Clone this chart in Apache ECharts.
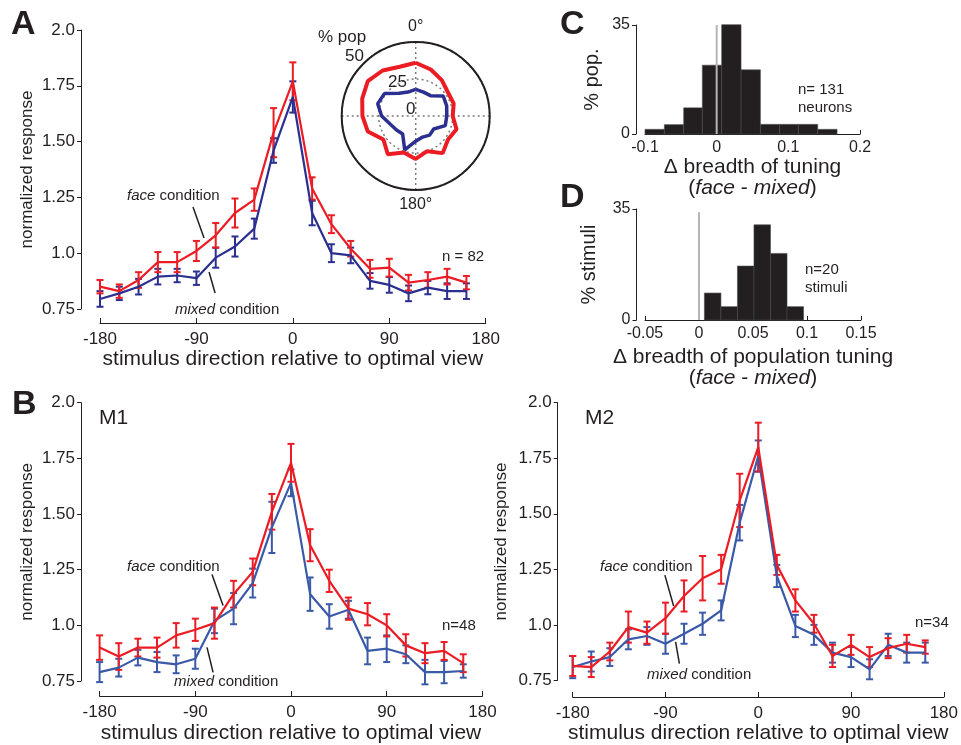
<!DOCTYPE html>
<html>
<head>
<meta charset="utf-8">
<title>face vs mixed view tuning</title>
<script src="https://cdn.jsdelivr.net/npm/echarts@6.0.0/dist/echarts.min.js"></script>
<style>
  html, body { margin: 0; padding: 0; background: #fff; }
  #chart { width: 961px; height: 745px; }
</style>
</head>
<body>
<div id="chart"></div>
<script>
// stimulus direction relative to optimal view (deg)
var dirs = [-180, -162, -144, -126, -108, -90, -72, -54, -36, -18, 0, 18, 36, 54, 72, 90, 108, 126, 144, 162];

// A - all neurons (n = 82)
var faceA     = [0.85, 0.83, 0.88, 0.96, 0.96, 1.01, 1.08, 1.18, 1.24, 1.54, 1.77, 1.29, 1.13, 1.02, 0.93, 0.935, 0.868, 0.88, 0.895, 0.868];
var faceAErr  = [0.03, 0.03, 0.035, 0.045, 0.045, 0.045, 0.055, 0.065, 0.05, 0.11, 0.085, 0.05, 0.04, 0.035, 0.04, 0.04, 0.035, 0.035, 0.035, 0.03];
var mixedA    = [0.795, 0.82, 0.85, 0.895, 0.90, 0.888, 0.98, 1.03, 1.11, 1.46, 1.70, 1.18, 1.0, 0.99, 0.876, 0.858, 0.82, 0.846, 0.83, 0.83];
var mixedAErr = [0.035, 0.03, 0.035, 0.035, 0.03, 0.03, 0.045, 0.045, 0.045, 0.055, 0.07, 0.055, 0.04, 0.035, 0.035, 0.035, 0.035, 0.03, 0.035, 0.035];

// A inset - population polar tuning (% pop), angle clockwise from 0 deg at top
var polarAngles = [0, 18, 36, 54, 72, 90, 108, 126, 144, 162, 180, 198, 216, 234, 252, 270, 288, 306, 324, 342];
var polarFace   = [36, 33, 30, 27, 27, 25, 29, 27, 31, 25, 29, 26, 32, 27, 34, 36, 38, 40, 38, 35];
var polarMixed  = [18, 17, 17, 23, 22, 21, 21, 15, 16, 15, 17, 24, 15, 16, 18, 23, 27, 26, 19, 17];

// B - M1 (n=48)
var faceM1     = [0.90, 0.86, 0.90, 0.90, 0.955, 0.98, 1.01, 1.14, 1.24, 1.51, 1.73, 1.36, 1.20, 1.075, 1.05, 1.0, 0.91, 0.875, 0.885, 0.83];
var faceM1Err  = [0.055, 0.06, 0.04, 0.045, 0.055, 0.05, 0.07, 0.06, 0.06, 0.08, 0.085, 0.072, 0.05, 0.05, 0.05, 0.05, 0.05, 0.045, 0.04, 0.04];
var mixedM1    = [0.79, 0.81, 0.855, 0.835, 0.825, 0.85, 1.02, 1.075, 1.19, 1.44, 1.64, 1.14, 1.04, 1.07, 0.885, 0.895, 0.87, 0.79, 0.79, 0.795];
var mixedM1Err = [0.045, 0.04, 0.035, 0.045, 0.04, 0.045, 0.055, 0.07, 0.065, 0.115, 0.06, 0.075, 0.055, 0.04, 0.06, 0.06, 0.04, 0.055, 0.05, 0.03];

// B - M2 (n=34)
var faceM2     = [0.815, 0.81, 0.88, 0.99, 0.965, 1.03, 1.13, 1.21, 1.25, 1.56, 1.80, 1.27, 1.11, 1.005, 0.86, 0.91, 0.855, 0.895, 0.915, 0.90];
var faceM2Err  = [0.045, 0.045, 0.04, 0.07, 0.05, 0.07, 0.07, 0.1, 0.065, 0.12, 0.11, 0.045, 0.05, 0.04, 0.05, 0.045, 0.045, 0.045, 0.04, 0.03];
var mixedM2    = [0.81, 0.835, 0.855, 0.935, 0.95, 0.915, 0.96, 1.005, 1.065, 1.46, 1.76, 1.22, 0.995, 0.955, 0.875, 0.855, 0.80, 0.91, 0.875, 0.875];
var mixedM2Err = [0.05, 0.045, 0.04, 0.045, 0.04, 0.045, 0.045, 0.05, 0.045, 0.08, 0.07, 0.05, 0.05, 0.045, 0.045, 0.045, 0.045, 0.05, 0.045, 0.045];

// C - change in tuning breadth, neurons (n=131)
var binEdgesC = [-0.100, -0.073, -0.046, -0.020, 0.007, 0.034, 0.061, 0.088, 0.114, 0.141, 0.168];
var pctC      = [1.5, 3.0, 8.4, 22.1, 35.1, 20.6, 3.1, 3.1, 3.1, 1.5];

// D - change in population tuning breadth, stimuli (n=20)
var binEdgesD = [0.005, 0.0203, 0.0356, 0.0509, 0.0662, 0.0815, 0.0968];
var pctD      = [8.5, 4.2, 17, 30, 21, 4.2];

var FONT = '"Liberation Sans", Arial, Helvetica, sans-serif';
var INK = '#231f20';
var RED = '#ec1c24';
var NAVY = '#2b2f8f';
var BLUE = '#3a5aa8';

var myChart = echarts.init(document.getElementById('chart'), null, {renderer: 'canvas'});

function respLabel(v) {
    return (v === 2 || v === 1) ? v.toFixed(1) : v.toFixed(2);
}

function dirAxis(gi, offset, gap) {
    return {
        gridIndex: gi, type: 'value', min: -180, max: 180, interval: 90, offset: offset,
        axisLine: {onZero: false, lineStyle: {color: INK, width: 1}},
        axisTick: {inside: true, length: 5, lineStyle: {color: INK}},
        axisLabel: {color: INK, fontSize: 17, fontFamily: FONT, margin: 8},
        splitLine: {show: false},
        name: 'stimulus direction relative to optimal view', nameLocation: 'middle', nameGap: gap,
        nameTextStyle: {color: INK, fontSize: 21, fontFamily: FONT}
    };
}

function respAxis(gi, offset, gap) {
    return {
        gridIndex: gi, type: 'value', min: 0.75, max: 2.0, interval: 0.25, offset: offset,
        axisLine: {show: true, onZero: false, lineStyle: {color: INK, width: 1}},
        axisTick: {show: true, length: 4, lineStyle: {color: INK}},
        axisLabel: {color: INK, fontSize: 17, fontFamily: FONT, margin: 6, formatter: respLabel},
        splitLine: {show: false},
        name: 'normalized response', nameLocation: 'middle', nameGap: gap,
        nameTextStyle: {color: INK, fontSize: 17, fontFamily: FONT}
    };
}

function histYAxis(gi, offset, name, gap) {
    return {
        gridIndex: gi, type: 'value', min: 0, max: 35, interval: 35, offset: offset,
        axisLine: {show: true, onZero: false, lineStyle: {color: INK}},
        axisTick: {show: true, length: 4, lineStyle: {color: INK}},
        axisLabel: {color: INK, fontSize: 16, fontFamily: FONT, margin: 6}, splitLine: {show: false},
        name: name, nameLocation: 'middle', nameGap: gap,
        nameTextStyle: {color: INK, fontSize: 20, fontFamily: FONT}
    };
}

function histXAxis(gi, min, max, step, name, gap) {
    return {
        gridIndex: gi, type: 'value', min: min, max: max, interval: step,
        axisLine: {onZero: false, lineStyle: {color: INK}},
        axisTick: {inside: true, length: 4, lineStyle: {color: INK}},
        axisLabel: {color: INK, fontSize: 16, fontFamily: FONT, margin: 6}, splitLine: {show: false},
        name: name, nameLocation: 'middle', nameGap: gap,
        nameTextStyle: {color: INK, fontSize: 21, lineHeight: 21, fontFamily: FONT,
            rich: {it: {fontStyle: 'italic', fontSize: 21, lineHeight: 21, fontFamily: FONT, color: INK}}}
    };
}

function errBars(gi, mean, err, color) {
    var data = dirs.map(function (d, i) { return [d, mean[i] - err[i], mean[i] + err[i]]; });
    return {
        type: 'custom', xAxisIndex: gi, yAxisIndex: gi, data: data, encode: {x: 0, y: [1, 2]}, z: 3,
        renderItem: function (params, api) {
            var lo = api.coord([api.value(0), api.value(1)]);
            var hi = api.coord([api.value(0), api.value(2)]);
            var w = 3.5;
            var st = {stroke: color, lineWidth: 2};
            return {
                type: 'group', children: [
                    {type: 'line', shape: {x1: lo[0], y1: lo[1], x2: hi[0], y2: hi[1]}, style: st},
                    {type: 'line', shape: {x1: lo[0] - w, y1: lo[1], x2: lo[0] + w, y2: lo[1]}, style: st},
                    {type: 'line', shape: {x1: hi[0] - w, y1: hi[1], x2: hi[0] + w, y2: hi[1]}, style: st}
                ]
            };
        }
    };
}

function tuneLine(gi, mean, color) {
    return {
        type: 'line', xAxisIndex: gi, yAxisIndex: gi,
        data: dirs.map(function (d, i) { return [d, mean[i]]; }),
        symbol: 'none', lineStyle: {color: color, width: 2.2}, z: 3
    };
}

function histBars(gi, edges, pct) {
    var data = pct.map(function (h, i) { return [edges[i], edges[i + 1], h]; });
    return {
        type: 'custom', xAxisIndex: gi, yAxisIndex: gi, data: data, encode: {x: [0, 1], y: 2},
        renderItem: function (params, api) {
            var p0 = api.coord([api.value(0), api.value(2)]);
            var p1 = api.coord([api.value(1), 0]);
            return {
                type: 'rect',
                shape: {x: p0[0], y: p0[1], width: p1[0] - p0[0], height: p1[1] - p0[1]},
                style: {fill: INK, stroke: '#4a4a4a', lineWidth: 0.6}
            };
        }
    };
}

function zeroLine(gi, top) {
    return {
        type: 'line', xAxisIndex: gi, yAxisIndex: gi, data: [[0, 0], [0, top]],
        symbol: 'none', lineStyle: {color: '#b5b5b5', width: 2}, z: 4
    };
}

// short leader line from an annotation to a curve, in axis units
function leader(gi, a, b) {
    return {
        type: 'line', xAxisIndex: gi, yAxisIndex: gi, data: [a, b],
        symbol: 'none', lineStyle: {color: INK, width: 1.5}, z: 2
    };
}

function txt(x, y, text, size, extra) {
    var st = {text: text, x: 0, y: 0, fill: INK, fontSize: size, fontFamily: FONT, verticalAlign: 'middle',
        rich: {it: {fontStyle: 'italic', fontSize: size, fontFamily: FONT, fill: INK}}};
    if (extra) { for (var k in extra) st[k] = extra[k]; }
    return {type: 'text', x: x, y: y, style: st, z: 10};
}

var option = {
    animation: false,
    backgroundColor: '#fff',
    textStyle: {fontFamily: FONT},
    grid: [
        {left: 100, top: 30, width: 385.7, height: 279},
        {left: 645, top: 25, width: 215, height: 109},
        {left: 645, top: 209, width: 216, height: 111},
        {left: 99.6, top: 402.7, width: 382.8, height: 279},
        {left: 572.7, top: 402.7, width: 383, height: 279}
    ],
    xAxis: [
        dirAxis(0, 14, 25),
        histXAxis(1, -0.1, 0.2, 0.1, 'Δ breadth of tuning\n({it|face} - {it|mixed})', 23),
        histXAxis(2, -0.05, 0.15, 0.05, 'Δ breadth of population tuning\n({it|face} - {it|mixed})', 27),
        dirAxis(3, 15, 27),
        dirAxis(4, 16.6, 26)
    ],
    yAxis: [
        respAxis(0, 19, 45),
        histYAxis(1, 9, '% pop.', 34),
        histYAxis(2, 8.5, '% stimuli', 37),
        respAxis(3, 18.6, 45),
        respAxis(4, 15, 48)
    ],
    polar: {center: [415.7, 116], radius: 74},
    angleAxis: {
        type: 'value', min: 0, max: 360, interval: 90, startAngle: 90, clockwise: true,
        axisLine: {lineStyle: {color: INK, width: 2}}, axisTick: {show: false},
        axisLabel: {color: INK, fontSize: 16, fontFamily: FONT, margin: 7,
            formatter: function (v) { return v === 0 ? '0°' : (v === 180 ? '180°' : ''); }},
        splitLine: {lineStyle: {color: '#7a7a7a', width: 1.5, type: [2, 3]}},
        z: 1
    },
    radiusAxis: {
        min: 0, max: 50, interval: 25,
        axisLine: {show: false}, axisTick: {show: false}, axisLabel: {show: false},
        splitLine: {lineStyle: {color: '#7a7a7a', width: 1.5, type: [2, 3]}}
    },
    series: [
        // A
        errBars(0, mixedA, mixedAErr, NAVY),
        tuneLine(0, mixedA, NAVY),
        errBars(0, faceA, faceAErr, RED),
        tuneLine(0, faceA, RED),
        leader(0, [-93.2, 1.207], [-82.9, 1.068]),
        leader(0, [-78.2, 0.916], [-72.6, 0.822]),
        // A inset
        {
            type: 'line', coordinateSystem: 'polar', symbol: 'none', z: 5,
            data: polarFace.map(function (r, i) { return [r, polarAngles[i]]; }).concat([[polarFace[0], 360]]),
            lineStyle: {color: RED, width: 4}
        },
        {
            type: 'line', coordinateSystem: 'polar', symbol: 'none', z: 5,
            data: polarMixed.map(function (r, i) { return [r, polarAngles[i]]; }).concat([[polarMixed[0], 360]]),
            lineStyle: {color: NAVY, width: 3.5}
        },
        // C
        histBars(1, binEdgesC, pctC),
        zeroLine(1, 35),
        // D
        histBars(2, binEdgesD, pctD),
        zeroLine(2, 34),
        // B M1
        errBars(3, mixedM1, mixedM1Err, BLUE),
        tuneLine(3, mixedM1, BLUE),
        errBars(3, faceM1, faceM1Err, RED),
        tuneLine(3, faceM1, RED),
        leader(3, [-74.3, 1.228], [-63.9, 1.089]),
        leader(3, [-79.0, 0.901], [-73.3, 0.789]),
        // B M2
        errBars(4, mixedM2, mixedM2Err, BLUE),
        tuneLine(4, mixedM2, BLUE),
        errBars(4, faceM2, faceM2Err, RED),
        tuneLine(4, faceM2, RED),
        leader(4, [-90.6, 1.224], [-82.1, 1.085]),
        leader(4, [-80.2, 0.923], [-76.5, 0.825])
    ],
    graphic: [
        txt(11, 25, 'A', 34, {fontWeight: 'bold'}),
        txt(12, 405, 'B', 34, {fontWeight: 'bold'}),
        txt(560, 25, 'C', 34, {fontWeight: 'bold'}),
        txt(560, 198, 'D', 34, {fontWeight: 'bold'}),
        txt(127, 196, '{it|face} condition', 15),
        txt(175, 310, '{it|mixed} condition', 15),
        txt(442, 257, 'n = 82', 15),
        txt(318, 37, '% pop', 17),
        txt(345, 56, '50', 17),
        txt(388, 82, '25', 17),
        txt(406, 109, '0', 17),
        txt(798, 90, 'n= 131', 15),
        txt(798, 108, 'neurons', 15),
        txt(805, 270, 'n=20', 15),
        txt(805, 288, 'stimuli', 15),
        txt(99, 418, 'M1', 21),
        txt(127, 567, '{it|face} condition', 15),
        txt(174, 682, '{it|mixed} condition', 15),
        txt(442, 626, 'n=48', 15),
        txt(585, 418, 'M2', 21),
        txt(600, 567, '{it|face} condition', 15),
        txt(647, 675, '{it|mixed} condition', 15),
        txt(915, 623, 'n=34', 15)
    ]
};

myChart.setOption(option);
</script>
</body>
</html>
